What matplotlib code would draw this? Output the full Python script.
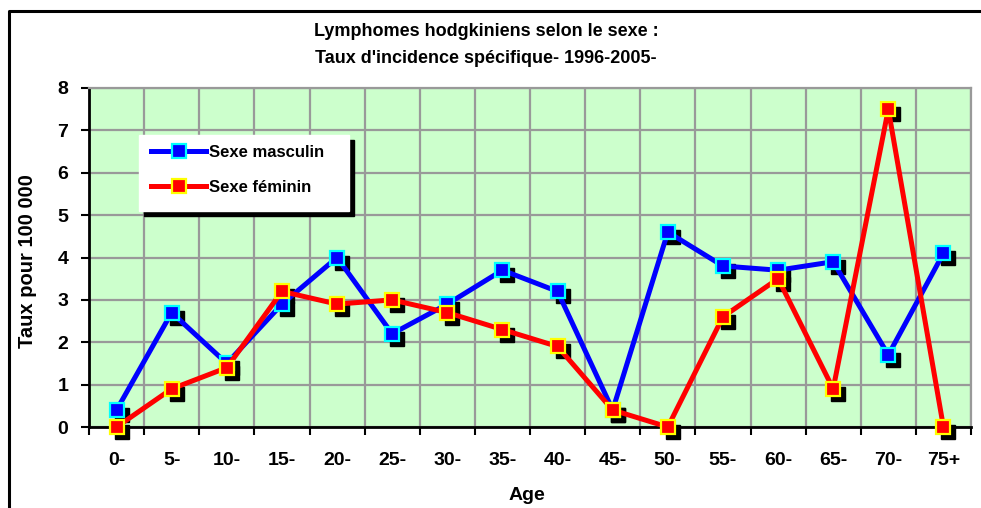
import matplotlib.pyplot as plt
from matplotlib import transforms
from matplotlib.patches import Rectangle
from matplotlib.lines import Line2D

plt.rcParams['font.family'] = ['Liberation Sans', 'DejaVu Sans']

# age groups and incidence rates per 100 000
ages = ["0-", "5-", "10-", "15-", "20-", "25-", "30-", "35-", "40-", "45-",
        "50-", "55-", "60-", "65-", "70-", "75+"]
masculin = [0.4, 2.7, 1.5, 2.9, 4.0, 2.2, 2.9, 3.7, 3.2, 0.4,
            4.6, 3.8, 3.7, 3.9, 1.7, 4.1]
feminin = [0.0, 0.9, 1.4, 3.2, 2.9, 3.0, 2.7, 2.3, 1.9, 0.4,
           0.0, 2.6, 3.5, 0.9, 7.5, 0.0]

W, H = 981, 508
fig = plt.figure(figsize=(W / 100, H / 100), dpi=100)

# outer frame around the whole chart
fig.add_artist(Line2D([9 / W, 9 / W, 1.0], [0.0, 1 - 11 / H, 1 - 11 / H],
                      transform=fig.transFigure, color="black", lw=2.2))

ax = fig.add_axes([89 / W, (H - 427) / H, (971 - 89) / W, (427 - 88) / H])
ax.set_facecolor("#ccffcc")

x = list(range(len(ages)))

# black drop shadows behind the markers
shadow = transforms.offset_copy(ax.transData, fig=fig, x=5, y=-5, units="dots")
for vals in (masculin, feminin):
    ax.plot(x, vals, linestyle="none", marker="s", markersize=10.5,
            color="black", transform=shadow, zorder=3, clip_on=False)

ax.plot(x, masculin, color="#0000ff", lw=3.6, marker="s", markersize=10,
        markerfacecolor="#0000ff", markeredgecolor="#00ffff",
        markeredgewidth=1.6, zorder=4, clip_on=False, label="Sexe masculin")
ax.plot(x, feminin, color="#ff0000", lw=3.6, marker="s", markersize=10,
        markerfacecolor="#ff0000", markeredgecolor="#ffff00",
        markeredgewidth=1.6, zorder=5, clip_on=False, label="Sexe féminin")

ax.set_xlim(-0.5, len(ages) - 0.5)
ax.set_ylim(0, 8)
ax.set_yticks(range(0, 9))
ax.set_xticks([i - 0.5 for i in range(len(ages) + 1)])
ax.set_xticklabels([])
ax.set_xticks(x, minor=True)
ax.set_xticklabels(ages, minor=True, fontsize=14, fontweight="bold")
ax.tick_params(axis="x", which="minor", length=0, pad=18)
ax.tick_params(axis="x", which="major", direction="out", length=6, width=1.5)
ax.tick_params(axis="y", direction="out", length=6, width=1.5, pad=9,
               labelsize=14)
for lbl in ax.get_yticklabels():
    lbl.set_fontweight("bold")

ax.grid(True, which="major", color="#999999", lw=1.6)
ax.set_axisbelow(True)
ax.spines["left"].set_linewidth(2)
ax.spines["bottom"].set_linewidth(2)
for side in ("top", "right"):
    ax.spines[side].set_color("#999999")
    ax.spines[side].set_linewidth(1.6)

# axis titles
fig.text(527 / W, 1 - 495 / H, "Age", ha="center", va="center",
         fontsize=14, fontweight="bold")
fig.text(28 / W, 1 - 261 / H, "Taux pour 100 000", ha="center",
         va="center", rotation=90, fontsize=14.5, fontweight="bold")

fig.text(486 / W, 1 - 36 / H, "Lymphomes hodgkiniens selon le sexe :",
         ha="center", va="baseline", fontsize=13, fontweight="bold")
fig.text(486 / W, 1 - 63 / H, "Taux d'incidence spécifique- 1996-2005-",
         ha="center", va="baseline", fontsize=13, fontweight="bold")

# legend box with its shadow
lx0, ly0, lx1, ly1 = 139, 135, 349, 211
ax.add_patch(Rectangle(((lx0 + 5) / W, 1 - (ly1 + 5) / H),
                       (lx1 - lx0) / W, (ly1 - ly0) / H,
                       transform=fig.transFigure, color="black", zorder=6,
                       clip_on=False))
ax.add_patch(Rectangle((lx0 / W, 1 - ly1 / H), (lx1 - lx0) / W,
                       (ly1 - ly0) / H, transform=fig.transFigure,
                       color="white", zorder=7, clip_on=False))
leg = ax.legend(loc="upper left", bbox_to_anchor=(151 / W, 1 - 145 / H),
                bbox_transform=fig.transFigure, frameon=False,
                prop={"weight": "bold", "size": 12}, handlelength=3.3,
                handletextpad=0.2, labelspacing=1.2, borderpad=0,
                borderaxespad=0)
leg.set_zorder(8)

fig.savefig("out.png", dpi=100)
